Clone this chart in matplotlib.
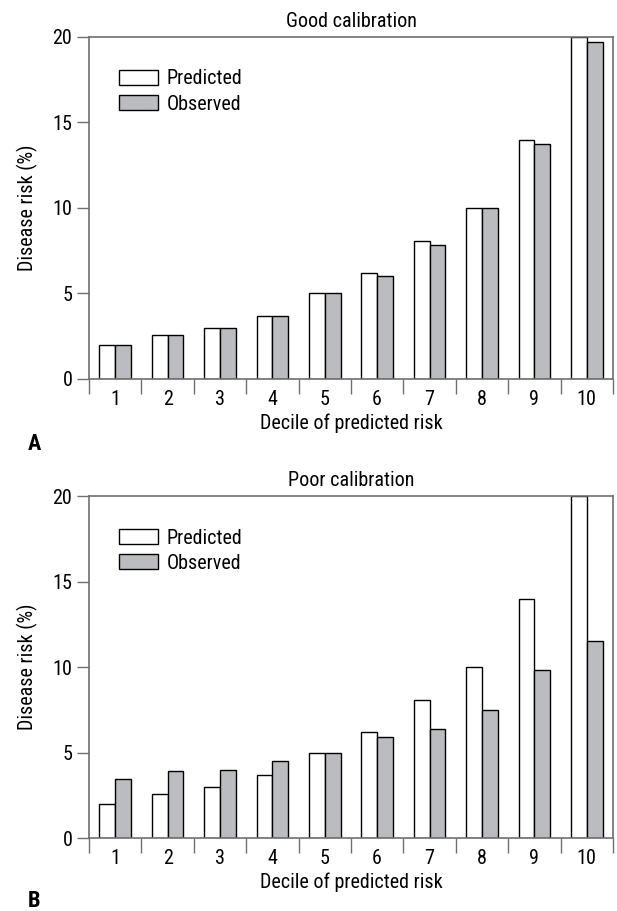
import matplotlib
matplotlib.use("Agg")
import matplotlib.pyplot as plt
import numpy as np

deciles = [1, 2, 3, 4, 5, 6, 7, 8, 9, 10]
predicted = [2.0, 2.6, 3.0, 3.7, 5.0, 6.2, 8.05, 10.0, 13.95, 20.0]
observed_good = [2.0, 2.6, 3.0, 3.7, 5.0, 6.05, 7.85, 10.0, 13.75, 19.7]
observed_poor = [3.45, 3.9, 4.0, 4.5, 5.0, 5.9, 6.35, 7.5, 9.85, 11.55]
titles = ["Good calibration", "Poor calibration"]
panel_letters = ["A", "B"]
yticks = [0, 5, 10, 15, 20]

plt.rcParams['font.family'] = ['Roboto Condensed', 'DejaVu Sans']

fig = plt.figure(figsize=(6.17, 9.11), dpi=100)
spine_col = '#707070'
obs_col = '#bbbcc0'
fs = 14.5

axes_pos = [[0.1442, 0.584, 0.8493, 0.3754], [0.1442, 0.0801, 0.8493, 0.3754]]
letter_y = [0.506, 0.004]

for i, (obs, title) in enumerate(zip([observed_good, observed_poor], titles)):
    ax = fig.add_axes(axes_pos[i])
    x = np.array(deciles)
    w = 0.3
    ax.bar(x - w / 2, predicted, width=w, color='white', edgecolor='black', linewidth=1.0, label='Predicted', zorder=2)
    ax.bar(x + w / 2, obs, width=w, color=obs_col, edgecolor='black', linewidth=1.0, label='Observed', zorder=2)
    ax.set_xlim(0.5, 10.5)
    ax.set_ylim(0, 20)
    ax.set_yticks(yticks)
    ax.set_yticklabels([str(v) for v in yticks], fontsize=fs)
    ax.set_xticks(np.arange(0.5, 11, 1.0))
    ax.set_xticklabels([])
    ax.set_xticks(x, minor=True)
    ax.set_xticklabels([str(d) for d in deciles], minor=True, fontsize=fs)
    ax.tick_params(axis='x', which='minor', length=0, pad=8)
    ax.tick_params(axis='x', which='major', length=11, width=1.0, color=spine_col, direction='out')
    ax.tick_params(axis='y', length=9, width=1.0, color=spine_col, direction='out', pad=3)
    for s in ax.spines.values():
        s.set_color(spine_col)
        s.set_linewidth(1.2)
    ax.set_title(title, fontsize=fs, pad=7)
    ax.set_xlabel("Decile of predicted risk", fontsize=fs, labelpad=3)
    ax.set_ylabel("Disease risk (%)", fontsize=fs, labelpad=10)
    ax.legend(loc='upper left', bbox_to_anchor=(0.058, 0.905), frameon=False, fontsize=fs,
              handlelength=1.9, handleheight=0.72, handletextpad=0.45, labelspacing=0.3, borderaxespad=0,
              borderpad=0)
    fig.text(0.045, letter_y[i], panel_letters[i], fontsize=16, fontweight='bold',
             family=['Roboto Condensed', 'DejaVu Sans'])

fig.savefig("out.png", dpi=100)
